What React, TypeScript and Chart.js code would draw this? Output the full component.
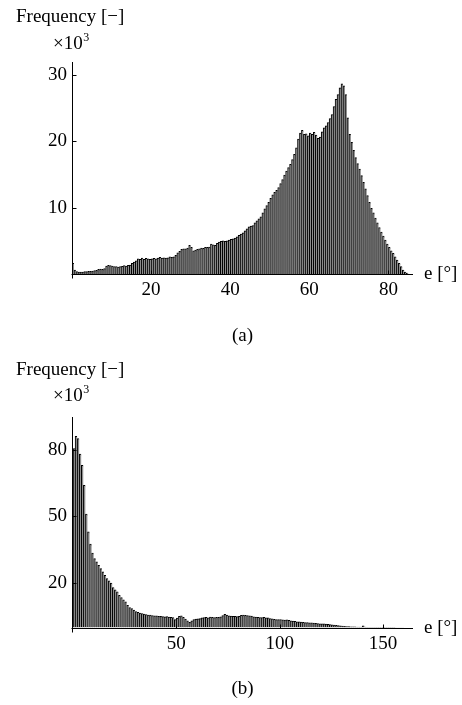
import React, { useEffect, useRef } from "react";
import { Chart, registerables } from "chart.js";

Chart.register(...registerables);

const FONT = '"Liberation Serif", "Times New Roman", Times, serif';

// ---------- Panel (a) : histogram of e, counts in units of 10^3 ----------
const binWidthA = 0.5;
const countsA = [
  1.6, 0.6, 0.35, 0.3, 0.3, 0.3, 0.35, 0.35, 0.4, 0.4,
  0.45, 0.5, 0.55, 0.7, 0.75, 0.7, 0.8, 1.2, 1.3, 1.25,
  1.2, 1.1, 1.1, 1.05, 1.1, 1.15, 1.25, 1.2, 1.3, 1.35,
  1.6, 1.8, 2.0, 2.3, 2.2, 2.4, 2.2, 2.35, 2.3, 2.2,
  2.3, 2.35, 2.3, 2.4, 2.5, 2.4, 2.45, 2.4, 2.45, 2.6,
  2.5, 2.6, 2.8, 3.2, 3.4, 3.7, 3.8, 3.8, 3.9, 4.3,
  4.0, 3.5, 3.6, 3.7, 3.8, 3.9, 3.85, 4.0, 4.0, 4.05,
  4.5, 4.4, 4.3, 4.6, 4.8, 4.9, 5.0, 4.9, 5.0, 5.1,
  5.2, 5.3, 5.4, 5.6, 5.8, 6.0, 6.2, 6.5, 6.8, 7.1,
  7.2, 7.3, 7.7, 8.0, 8.3, 8.6, 9.2, 9.8, 10.3, 10.8,
  11.4, 11.9, 12.3, 12.6, 13.0, 13.6, 14.2, 14.9, 15.5, 16.0,
  16.5, 17.2, 18.0, 19.0, 20.3, 21.2, 21.6, 21.0, 21.1, 20.8,
  21.2, 21.0, 21.3, 20.9, 20.4, 20.6, 21.4, 22.0, 22.3, 22.8,
  23.4, 24.0, 25.2, 26.3, 27.0, 28.0, 28.6, 28.3, 27.0, 23.5,
  21.0, 19.8, 18.6, 17.5, 16.6, 15.8, 14.8, 13.8, 12.8, 11.8,
  10.8, 9.9, 9.2, 8.4, 7.7, 7.0, 6.3, 5.7, 5.1, 4.5,
  4.0, 3.5, 3.1, 2.6, 2.1, 1.6, 1.1, 0.6, 0.3, 0.15,
];
const xTicksA = [20, 40, 60, 80];
const yTicksA = [10, 20, 30];

// ---------- Panel (b) ----------
const binWidthB = 1;
const countsB = [
  80.5, 86, 85, 78, 73, 64, 51, 43, 37.5, 33.5,
  31, 29.5, 28, 26.5, 25, 23.5, 22, 21, 20, 18,
  17, 16, 14.5, 13.5, 12.5, 11.5, 10, 9, 8.5, 7.8,
  7.2, 6.8, 6.5, 6.3, 6.0, 5.8, 5.6, 5.6, 5.4, 5.3,
  5.2, 5.0, 5.0, 4.9, 4.8, 4.9, 4.7, 4.6, 4.5, 3.6,
  4.2, 5.0, 5.3, 4.6, 3.8, 3.0, 2.3, 3.0, 3.6, 3.8,
  3.9, 4.0, 4.3, 4.5, 4.6, 4.4, 4.7, 4.6, 4.5, 4.6,
  4.6, 4.8, 5.4, 5.9, 5.6, 5.3, 5.1, 5.0, 5.0, 4.9,
  5.0, 5.5, 5.6, 5.5, 5.4, 5.3, 5.1, 4.8, 4.7, 4.6,
  4.5, 4.5, 4.6, 4.4, 4.3, 4.0, 3.9, 3.7, 3.6, 3.6,
  3.6, 3.4, 3.3, 3.4, 3.2, 3.0, 2.9, 2.8, 2.6, 2.5,
  2.4, 2.3, 2.2, 2.2, 2.1, 2.1, 2.0, 1.9, 1.8, 1.7,
  1.6, 1.6, 1.5, 1.4, 1.3, 1.2, 1.1, 1.0, 0.9, 0.7,
  0.6, 0.5, 0.45, 0.4, 0.35, 0.3, 0.25, 0.2, 0.15, 0.15,
  0.7, 0.15, 0.1, 0.1, 0.1, 0.1, 0.08, 0.07, 0.06, 0.05,
  0.05, 0.04, 0.04, 0.03, 0.03, 0.03, 0.02, 0.02, 0.02, 0.01,
];
const xTicksB = [50, 100, 150];
const yTicksB = [20, 50, 80];

type PanelProps = {
  counts: number[];
  binWidth: number;
  xMin: number;
  xMax: number;
  yMax: number;
  xTicks: number[];
  yTicks: number[];
  caption: string;
  top: number;
  height: number;
  padTop: number;
  padBottom: number;
  freqBaseline: number;
  expBaseline: number;
  captionY: number;
};

function Panel(p: PanelProps) {
  const ref = useRef<HTMLCanvasElement | null>(null);

  useEffect(() => {
    if (!ref.current) return;
    const data = p.counts.map((v, i) => ({ x: (i + 0.5) * p.binWidth, y: v }));

    const decor = {
      id: "decor",
      afterDatasetsDraw(chart: any) {
        const { ctx, chartArea: ca, scales } = chart;
        const xs = scales.x;
        const ys = scales.y;
        ctx.save();
        ctx.strokeStyle = "#000";
        ctx.lineWidth = 1;
        const y0 = Math.round(ys.getPixelForValue(0)) + 0.5;
        const xl = Math.round(ca.left) + 0.5;
        ctx.beginPath();
        ctx.moveTo(xl, ca.top);
        ctx.lineTo(xl, y0 + 4);
        ctx.moveTo(xl - 1, y0);
        ctx.lineTo(ca.right, y0);
        p.yTicks.forEach((v) => {
          const py = Math.round(ys.getPixelForValue(v)) + 0.5;
          ctx.moveTo(xl, py);
          ctx.lineTo(xl + 4, py);
        });
        p.xTicks.forEach((v) => {
          const px = Math.round(xs.getPixelForValue(v)) + 0.5;
          ctx.moveTo(px, y0);
          ctx.lineTo(px, y0 - 4);
        });
        ctx.stroke();

        ctx.fillStyle = "#000";
        ctx.textAlign = "left";
        ctx.textBaseline = "alphabetic";
        ctx.font = `19px ${FONT}`;
        ctx.fillText("Frequency [\u2212]", 16, p.freqBaseline);
        ctx.fillText("\u00d710", 53, p.expBaseline);
        const w = ctx.measureText("\u00d710").width;
        ctx.font = `12px ${FONT}`;
        ctx.fillText("3", 53 + w + 0.5, p.expBaseline - 8);
        ctx.font = `19px ${FONT}`;
        ctx.textBaseline = "middle";
        ctx.fillText("e [\u00b0]", ca.right + 11, y0);
        ctx.textAlign = "center";
        ctx.fillText(p.caption, (ca.left + ca.right) / 2, p.captionY);
        ctx.restore();
      },
    };

    const chart = new Chart(ref.current, {
      type: "bar",
      data: {
        datasets: [
          {
            data,
            backgroundColor: "#8e8e8e",
            borderColor: "#000",
            borderWidth: { top: 1, left: 1, right: 0, bottom: 0 } as any,
            borderSkipped: false,
            categoryPercentage: 1,
            barPercentage: 1,
          },
        ],
      },
      options: {
        animation: false,
        responsive: false,
        devicePixelRatio: 1,
        events: [],
        layout: {
          padding: { left: 0, right: 49, top: p.padTop, bottom: p.padBottom },
        },
        plugins: { legend: { display: false }, tooltip: { enabled: false } },
        scales: {
          x: {
            type: "linear",
            offset: false,
            min: p.xMin,
            max: p.xMax,
            grid: { display: false, drawTicks: false, offset: false },
            border: { display: false },
            afterBuildTicks: (s: any) => {
              s.ticks = p.xTicks.map((v) => ({ value: v }));
            },
            afterFit: (s: any) => {
              s.height = 30;
            },
            ticks: {
              autoSkip: false,
              maxRotation: 0,
              padding: 5,
              color: "#000",
              font: { family: FONT, size: 19 },
              callback: (v: any) => String(v),
            },
          },
          y: {
            type: "linear",
            min: 0,
            max: p.yMax,
            grid: { display: false, drawTicks: false },
            border: { display: false },
            afterBuildTicks: (s: any) => {
              s.ticks = p.yTicks.map((v) => ({ value: v }));
            },
            afterFit: (s: any) => {
              s.width = 72;
            },
            ticks: {
              autoSkip: false,
              padding: 5,
              color: "#000",
              font: { family: FONT, size: 19 },
              callback: (v: any) => String(v),
            },
          },
        },
      } as any,
      plugins: [decor],
    });
    return () => chart.destroy();
  }, []);

  return (
    <canvas
      ref={ref}
      width={462}
      height={p.height}
      style={{ position: "absolute", left: 0, top: p.top, width: 462, height: p.height }}
    />
  );
}

export default function App() {
  return (
    <div
      style={{
        position: "absolute",
        left: 0,
        top: 0,
        width: 462,
        height: 705,
        background: "#fff",
        overflow: "hidden",
      }}
    >
      <Panel
        counts={countsA}
        binWidth={binWidthA}
        xMin={0}
        xMax={86.2}
        yMax={31.9}
        xTicks={xTicksA}
        yTicks={yTicksA}
        caption="(a)"
        top={0}
        height={352}
        padTop={62}
        padBottom={48}
        freqBaseline={22}
        expBaseline={49}
        captionY={336}
      />
      <Panel
        counts={countsB}
        binWidth={binWidthB}
        xMin={-0.5}
        xMax={164.5}
        yMax={94.7}
        xTicks={xTicksB}
        yTicks={yTicksB}
        caption="(b)"
        top={352}
        height={353}
        padTop={65}
        padBottom={47.5}
        freqBaseline={23}
        expBaseline={49}
        captionY={337}
      />
    </div>
  );
}
